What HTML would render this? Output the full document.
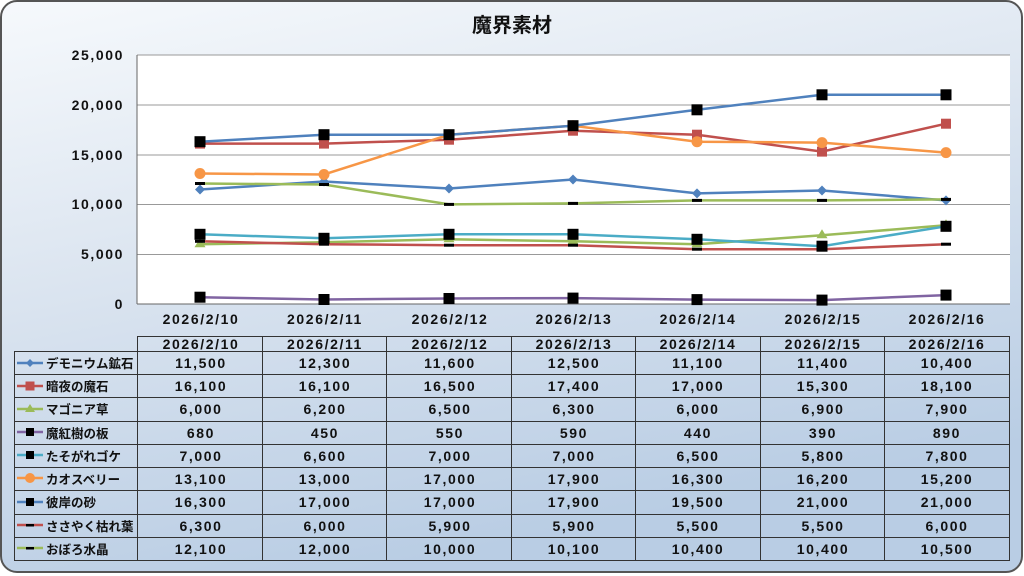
<!DOCTYPE html>
<html><head><meta charset="utf-8"><style>
html,body{margin:0;padding:0;width:1024px;height:576px;overflow:hidden;background:#fff}
svg text{font-family:"Liberation Sans","Noto Sans CJK JP",sans-serif;fill:#111}
.n{font-size:14px;letter-spacing:1.6px;font-weight:bold}
</style></head><body>
<svg width="1024" height="576" viewBox="0 0 1024 576" xmlns="http://www.w3.org/2000/svg">
<defs>
<linearGradient id="bg" x1="0" y1="0" x2="0.35" y2="1">
<stop offset="0" stop-color="#f6f9fc"/><stop offset="0.5" stop-color="#d9e3ef"/><stop offset="1" stop-color="#b9cde4"/>
</linearGradient>
<rect id="sq" x="-5.5" y="-5.5" width="11" height="11" fill="#000"/>
<rect id="dash" x="-5" y="-1.5" width="10" height="3" fill="#000"/>
</defs>
<rect x="1" y="1" width="1021" height="571" rx="16" fill="url(#bg)" stroke="#555" stroke-width="2"/>
<text x="512" y="32" font-size="20" font-weight="bold" text-anchor="middle">魔界素材</text>
<rect x="137" y="55" width="873" height="249" fill="#fff"/>
<g stroke="#999" stroke-width="1">
<line x1="137" y1="55" x2="1010" y2="55"/><line x1="137" y1="105" x2="1010" y2="105"/>
<line x1="137" y1="155" x2="1010" y2="155"/><line x1="137" y1="204.5" x2="1010" y2="204.5"/>
<line x1="137" y1="254.5" x2="1010" y2="254.5"/>
</g>
<line x1="137" y1="304" x2="1010" y2="304" stroke="#666"/>
<line x1="137" y1="55" x2="137" y2="304" stroke="#666"/>
<g class="n" text-anchor="end">
<text x="124" y="60">25,000</text><text x="124" y="110">20,000</text><text x="124" y="160">15,000</text>
<text x="124" y="209">10,000</text><text x="124" y="259">5,000</text><text x="124" y="309">0</text>
</g>
<g class="n" text-anchor="middle">
<text x="201" y="324">2026/2/10</text><text x="325" y="324">2026/2/11</text><text x="450" y="324">2026/2/12</text>
<text x="574" y="324">2026/2/13</text><text x="698" y="324">2026/2/14</text><text x="823" y="324">2026/2/15</text><text x="947" y="324">2026/2/16</text>
</g>
<g fill="none" stroke-width="2.5">
<polyline stroke="#4f81bd" points="200,189.5 324,181.5 449,188.5 573,179.5 697,193.4 822,190.5 946,200.4"/>
<polyline stroke="#c0504d" points="200,143.6 324,143.6 449,139.7 573,130.7 697,134.7 822,151.6 946,123.7"/>
<polyline stroke="#9bbb59" points="200,244.2 324,242.2 449,239.3 573,241.3 697,244.2 822,235.3 946,225.3"/>
<polyline stroke="#8064a2" points="200,297.2 324,299.5 449,298.5 573,298.1 697,299.6 822,300.1 946,295.1"/>
<polyline stroke="#4bacc6" points="200,234.3 324,238.3 449,234.3 573,234.3 697,239.3 822,246.2 946,226.3"/>
<polyline stroke="#f79646" points="200,173.5 324,174.5 449,134.7 573,125.7 697,141.7 822,142.6 946,152.6"/>
<polyline stroke="#4f81bd" points="200,141.7 324,134.7 449,134.7 573,125.7 697,109.8 822,94.8 946,94.8"/>
<polyline stroke="#c0504d" points="200,241.3 324,244.2 449,245.2 573,245.2 697,249.2 822,249.2 946,244.2"/>
<polyline stroke="#9bbb59" points="200,183.5 324,184.5 449,204.4 573,203.4 697,200.4 822,200.4 946,199.4"/>
</g>
<g fill="#4f81bd">
<path d="M200,184.5l5,5-5,5-5-5z M324,176.5l5,5-5,5-5-5z M449,183.5l5,5-5,5-5-5z M573,174.5l5,5-5,5-5-5z M697,188.4l5,5-5,5-5-5z M822,185.5l5,5-5,5-5-5z M946,195.4l5,5-5,5-5-5z"/>
</g>
<g fill="#c0504d">
<rect x="195" y="138.6" width="10" height="10"/><rect x="319" y="138.6" width="10" height="10"/><rect x="444" y="134.7" width="10" height="10"/><rect x="568" y="125.7" width="10" height="10"/><rect x="692" y="129.7" width="10" height="10"/><rect x="817" y="146.6" width="10" height="10"/><rect x="941" y="118.7" width="10" height="10"/>
</g>
<g fill="#9bbb59">
<path d="M200,238.2l5.5,9h-11z M324,236.2l5.5,9h-11z M449,233.3l5.5,9h-11z M573,235.3l5.5,9h-11z M697,238.2l5.5,9h-11z M822,229.3l5.5,9h-11z M946,219.3l5.5,9h-11z"/>
</g>
<g>
<use href="#sq" x="200" y="297.2"/><use href="#sq" x="324" y="299.5"/><use href="#sq" x="449" y="298.5"/><use href="#sq" x="573" y="298.1"/><use href="#sq" x="697" y="299.6"/><use href="#sq" x="822" y="300.1"/><use href="#sq" x="946" y="295.1"/>
<use href="#sq" x="200" y="234.3"/><use href="#sq" x="324" y="238.3"/><use href="#sq" x="449" y="234.3"/><use href="#sq" x="573" y="234.3"/><use href="#sq" x="697" y="239.3"/><use href="#sq" x="822" y="246.2"/><use href="#sq" x="946" y="226.3"/>
</g>
<g fill="#f79646">
<circle cx="200" cy="173.5" r="5.5"/><circle cx="324" cy="174.5" r="5.5"/><circle cx="449" cy="134.7" r="5.5"/><circle cx="573" cy="125.7" r="5.5"/><circle cx="697" cy="141.7" r="5.5"/><circle cx="822" cy="142.6" r="5.5"/><circle cx="946" cy="152.6" r="5.5"/>
</g>
<g>
<use href="#sq" x="200" y="141.7"/><use href="#sq" x="324" y="134.7"/><use href="#sq" x="449" y="134.7"/><use href="#sq" x="573" y="125.7"/><use href="#sq" x="697" y="109.8"/><use href="#sq" x="822" y="94.8"/><use href="#sq" x="946" y="94.8"/>
<use href="#dash" x="200" y="241.3"/><use href="#dash" x="324" y="244.2"/><use href="#dash" x="449" y="245.2"/><use href="#dash" x="573" y="245.2"/><use href="#dash" x="697" y="249.2"/><use href="#dash" x="822" y="249.2"/><use href="#dash" x="946" y="244.2"/>
<use href="#dash" x="200" y="183.5"/><use href="#dash" x="324" y="184.5"/><use href="#dash" x="449" y="204.4"/><use href="#dash" x="573" y="203.4"/><use href="#dash" x="697" y="200.4"/><use href="#dash" x="822" y="200.4"/><use href="#dash" x="946" y="199.4"/>
</g>
<g stroke="#333" stroke-width="1" fill="none">
<rect x="137.5" y="336.5" width="872" height="224"/>
<rect x="14.5" y="351.5" width="123" height="209"/>
<line x1="137" y1="351.5" x2="1010" y2="351.5"/>
<line x1="14" y1="374.5" x2="1010" y2="374.5"/><line x1="14" y1="397.5" x2="1010" y2="397.5"/>
<line x1="14" y1="421.5" x2="1010" y2="421.5"/><line x1="14" y1="444.5" x2="1010" y2="444.5"/>
<line x1="14" y1="467.5" x2="1010" y2="467.5"/><line x1="14" y1="490.5" x2="1010" y2="490.5"/>
<line x1="14" y1="514.5" x2="1010" y2="514.5"/><line x1="14" y1="537.5" x2="1010" y2="537.5"/>
<line x1="262.5" y1="336" x2="262.5" y2="561"/><line x1="386.5" y1="336" x2="386.5" y2="561"/>
<line x1="511.5" y1="336" x2="511.5" y2="561"/><line x1="635.5" y1="336" x2="635.5" y2="561"/>
<line x1="760.5" y1="336" x2="760.5" y2="561"/><line x1="884.5" y1="336" x2="884.5" y2="561"/>
</g>
<g class="n" text-anchor="middle">
<text x="201" y="349">2026/2/10</text><text x="325" y="349">2026/2/11</text><text x="450" y="349">2026/2/12</text><text x="574" y="349">2026/2/13</text><text x="698" y="349">2026/2/14</text><text x="823" y="349">2026/2/15</text><text x="947" y="349">2026/2/16</text>
<text x="201" y="368">11,500</text><text x="325" y="368">12,300</text><text x="450" y="368">11,600</text><text x="574" y="368">12,500</text><text x="698" y="368">11,100</text><text x="823" y="368">11,400</text><text x="947" y="368">10,400</text>
<text x="201" y="391">16,100</text><text x="325" y="391">16,100</text><text x="450" y="391">16,500</text><text x="574" y="391">17,400</text><text x="698" y="391">17,000</text><text x="823" y="391">15,300</text><text x="947" y="391">18,100</text>
<text x="201" y="414">6,000</text><text x="325" y="414">6,200</text><text x="450" y="414">6,500</text><text x="574" y="414">6,300</text><text x="698" y="414">6,000</text><text x="823" y="414">6,900</text><text x="947" y="414">7,900</text>
<text x="201" y="438">680</text><text x="325" y="438">450</text><text x="450" y="438">550</text><text x="574" y="438">590</text><text x="698" y="438">440</text><text x="823" y="438">390</text><text x="947" y="438">890</text>
<text x="201" y="461">7,000</text><text x="325" y="461">6,600</text><text x="450" y="461">7,000</text><text x="574" y="461">7,000</text><text x="698" y="461">6,500</text><text x="823" y="461">5,800</text><text x="947" y="461">7,800</text>
<text x="201" y="484">13,100</text><text x="325" y="484">13,000</text><text x="450" y="484">17,000</text><text x="574" y="484">17,900</text><text x="698" y="484">16,300</text><text x="823" y="484">16,200</text><text x="947" y="484">15,200</text>
<text x="201" y="507">16,300</text><text x="325" y="507">17,000</text><text x="450" y="507">17,000</text><text x="574" y="507">17,900</text><text x="698" y="507">19,500</text><text x="823" y="507">21,000</text><text x="947" y="507">21,000</text>
<text x="201" y="531">6,300</text><text x="325" y="531">6,000</text><text x="450" y="531">5,900</text><text x="574" y="531">5,900</text><text x="698" y="531">5,500</text><text x="823" y="531">5,500</text><text x="947" y="531">6,000</text>
<text x="201" y="554">12,100</text><text x="325" y="554">12,000</text><text x="450" y="554">10,000</text><text x="574" y="554">10,100</text><text x="698" y="554">10,400</text><text x="823" y="554">10,400</text><text x="947" y="554">10,500</text>
</g>
<g stroke-width="2.5">
<line x1="17" x2="43" y1="363" y2="363" stroke="#4f81bd"/><line x1="17" x2="43" y1="386" y2="386" stroke="#c0504d"/>
<line x1="17" x2="43" y1="409" y2="409" stroke="#9bbb59"/><line x1="17" x2="43" y1="432" y2="432" stroke="#8064a2"/>
<line x1="17" x2="43" y1="455" y2="455" stroke="#4bacc6"/><line x1="17" x2="43" y1="478" y2="478" stroke="#f79646"/>
<line x1="17" x2="43" y1="502" y2="502" stroke="#4f81bd"/><line x1="17" x2="43" y1="525" y2="525" stroke="#c0504d"/>
<line x1="17" x2="43" y1="548" y2="548" stroke="#9bbb59"/>
</g>
<path d="M30,359l4,4-4,4-4-4z" fill="#4f81bd"/>
<rect x="25.5" y="381.5" width="9" height="9" fill="#c0504d"/>
<path d="M30,404l5,8h-10z" fill="#9bbb59"/>
<rect x="26" y="428" width="8" height="8" fill="#000"/>
<rect x="26" y="451" width="8" height="8" fill="#000"/>
<circle cx="30" cy="478" r="5" fill="#f79646"/>
<rect x="26" y="498" width="8" height="8" fill="#000"/>
<rect x="26" y="524" width="8" height="2.5" fill="#000"/>
<rect x="26" y="547" width="8" height="2.5" fill="#000"/>
<g font-size="12.5" font-weight="bold">
<text x="46" y="368">デモニウム鉱石</text><text x="46" y="391">暗夜の魔石</text><text x="46" y="414">マゴニア草</text>
<text x="46" y="438">魔紅樹の板</text><text x="46" y="461">たそがれゴケ</text><text x="46" y="484">カオスベリー</text>
<text x="46" y="507">彼岸の砂</text><text x="46" y="531">ささやく枯れ葉</text><text x="46" y="554">おぼろ水晶</text>
</g>
</svg>
</body></html>
